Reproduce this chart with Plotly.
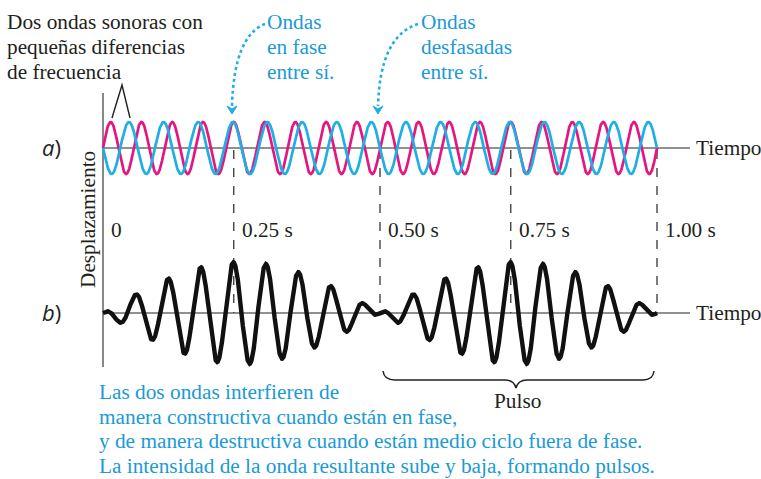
import numpy as np
import plotly.graph_objects as go

W, H = 761, 479

# two sound waves (panel a) and their sum (panel b)
WAVE_FREQS = [18, 16]            # Hz, read from the number of crests in 1 s
WAVE_SIGNS = [1, -1]             # magenta starts going up, cyan going down
WAVE_COLORS = ["#E5177F", "#1FAEE6"]
SUM_COLOR = "#111111"

# dashed time markers and their labels
MARK_TIMES = [0.236, 0.5, 0.736, 1.0]
MARK_LABELS = ["0.25 s", "0.50 s", "0.75 s", "1.00 s"]
ZERO_LABEL = "0"

TOP_LEFT_LINES = ["Dos ondas sonoras con", "pequeñas diferencias", "de frecuencia"]
IN_PHASE_LINES = ["Ondas", "en fase", "entre sí."]
OUT_PHASE_LINES = ["Ondas", "desfasadas", "entre sí."]
CAPTION_LINES = [
    "Las dos ondas interfieren de",
    "manera constructiva cuando están en fase,",
    "y de manera destructiva cuando están medio ciclo fuera de fase.",
    "La intensidad de la onda resultante sube y baja, formando pulsos.",
]

SERIF = "Liberation Serif"
SANS = "Open Sans"
TEXT_COLOR = "#231F20"
BLUE_TEXT = "#1A9AD6"
AXIS_COLOR = "#6B6B6B"
FS = 21.3

# pixel layout of the drawing
T0_PX, T1_PX = 103, 657
PX_PER_S = T1_PX - T0_PX


def px(x):
    return x / W


def py(y):
    return 1 - y / H


t = np.linspace(0, 1, 3001)
waves = [s * np.sin(2 * np.pi * f * t) for f, s in zip(WAVE_FREQS, WAVE_SIGNS)]
total = waves[0] + waves[1]

fig = go.Figure()
for w, c in zip(waves, WAVE_COLORS):
    fig.add_trace(go.Scatter(x=t, y=w, mode="lines", line=dict(color=c, width=2.7),
                             xaxis="x", yaxis="y", hoverinfo="skip", showlegend=False))
fig.add_trace(go.Scatter(x=t, y=total, mode="lines", line=dict(color=SUM_COLOR, width=4.4),
                         xaxis="x2", yaxis="y2", hoverinfo="skip", showlegend=False))

x_range = [-T0_PX / PX_PER_S, (W - T0_PX) / PX_PER_S]
hidden = dict(visible=False, showgrid=False, zeroline=False, fixedrange=True)

shapes = []
# axes
shapes.append(dict(type="line", xref="paper", yref="paper", x0=px(103), x1=px(103),
                   y0=py(93), y1=py(367), line=dict(color=AXIS_COLOR, width=1.6), layer="below"))
for yy in (148, 313):
    shapes.append(dict(type="line", xref="paper", yref="paper", x0=px(103), x1=px(690),
                       y0=py(yy), y1=py(yy), line=dict(color=AXIS_COLOR, width=1.3), layer="below"))
# dashed markers
for tm in MARK_TIMES:
    shapes.append(dict(type="line", xref="x", yref="paper", x0=tm, x1=tm,
                       y0=py(150), y1=py(313), line=dict(color="#444444", width=1.4, dash="dash"),
                       layer="below"))


def ppath(cmds):
    # cmds: list of (letter, [(x, y), ...]) in pixels -> paper path
    out = []
    for letter, pts in cmds:
        out.append(letter + " " + " ".join(f"{px(x):.5f},{py(y):.5f}" for x, y in pts))
    return " ".join(out)


# inverted V pointing at the two waves
shapes.append(dict(type="path", xref="paper", yref="paper",
                   path=ppath([("M", [(112, 118)]), ("L", [(122, 85)]), ("L", [(130, 118)])]),
                   line=dict(color=TEXT_COLOR, width=1.4)))
# dotted arrows
for (sx, sy), (cx, cy), (ex, ey) in [((265, 24), (234, 36), (232, 106)),
                                      ((418, 24), (380, 36), (378, 106))]:
    shapes.append(dict(type="path", xref="paper", yref="paper",
                       path=ppath([("M", [(sx, sy)]), ("Q", [(cx, cy), (ex, ey)])]),
                       line=dict(color=WAVE_COLORS[1], width=2.6, dash="dot")))
    shapes.append(dict(type="path", xref="paper", yref="paper",
                       path=ppath([("M", [(ex - 5, ey)]), ("L", [(ex, ey + 8)]), ("L", [(ex + 5, ey)]),
                                   ("L", [(ex, ey + 3)]), ("Z", [])]),
                       fillcolor=WAVE_COLORS[1], line=dict(color=WAVE_COLORS[1], width=1)))
# brace under the second pulse
shapes.append(dict(type="path", xref="paper", yref="paper",
                   path=ppath([("M", [(383, 371)]), ("Q", [(384, 380), (395, 380)]),
                               ("L", [(505, 380)]), ("Q", [(514, 380), (516, 388)]),
                               ("Q", [(518, 380), (527, 380)]), ("L", [(643, 380)]),
                               ("Q", [(653, 380), (654, 371)])]),
                   line=dict(color=TEXT_COLOR, width=1.5)))

ann = []


def text(x, y, s, color=TEXT_COLOR, size=FS, anchor="left", family=SERIF, **kw):
    ann.append(dict(x=px(x), y=py(y), xref="paper", yref="paper", text=s, showarrow=False,
                    xanchor=anchor, yanchor="middle", font=dict(family=family, size=size, color=color),
                    **kw))


for i, s in enumerate(TOP_LEFT_LINES):
    text(5, 22 + 25 * i, s)
for i, s in enumerate(IN_PHASE_LINES):
    text(265, 22 + 25 * i, s, color=BLUE_TEXT)
for i, s in enumerate(OUT_PHASE_LINES):
    text(419, 22 + 25 * i, s, color=BLUE_TEXT)
for i, s in enumerate(CAPTION_LINES):
    text(97, 392 + 24.5 * i, s, color=BLUE_TEXT)

text(109, 230, ZERO_LABEL)
for tm, lab in zip(MARK_TIMES, MARK_LABELS):
    ann.append(dict(x=tm, y=py(230), xref="x", yref="paper", text=lab, showarrow=False,
                    xanchor="left", yanchor="middle", xshift=6,
                    font=dict(family=SERIF, size=FS, color=TEXT_COLOR)))

text(694, 148, "Tiempo")
text(694, 313, "Tiempo")
text(517, 401, "Pulso", anchor="center")
text(88, 220, "Desplazamiento", anchor="center", textangle=-90)
text(51, 147, "<i>a</i>)", anchor="center", family=SANS, size=22)
text(51, 312, "<i>b</i>)", anchor="center", family=SANS, size=22)

fig.update_layout(
    width=W,
    height=H,
    margin=dict(l=0, r=0, t=0, b=0),
    paper_bgcolor="white",
    plot_bgcolor="rgba(0,0,0,0)",
    xaxis=dict(domain=[0, 1], range=x_range, anchor="y", **hidden),
    yaxis=dict(domain=[py(187), py(109)], range=[-1.5, 1.5], anchor="x", **hidden),
    xaxis2=dict(domain=[0, 1], range=x_range, anchor="y2", **hidden),
    yaxis2=dict(domain=[py(376.75), py(249.25)], range=[-2.5, 2.5], anchor="x2", **hidden),
    shapes=shapes,
    annotations=ann,
    showlegend=False,
)

fig.write_html("out.html", config={"displayModeBar": False},
               post_script="document.body.style.margin='0';")
